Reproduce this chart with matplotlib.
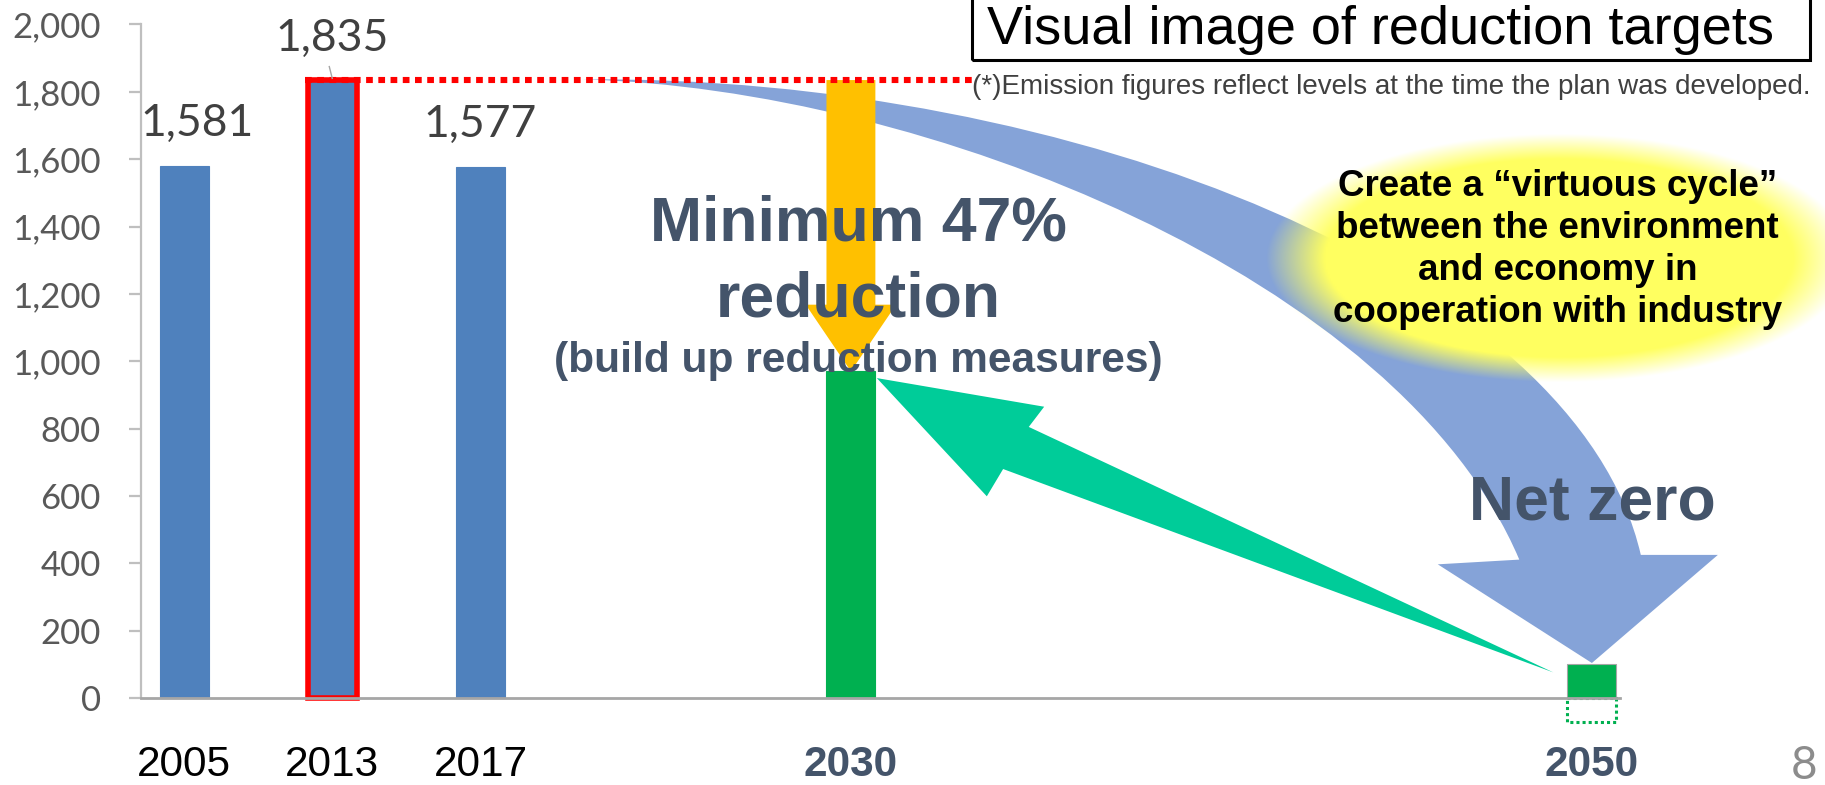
import numpy as np
import matplotlib
matplotlib.use("Agg")
import matplotlib.pyplot as plt
from matplotlib.patches import Polygon, Rectangle, PathPatch
from matplotlib.path import Path

# GHG emissions (Mt CO2eq) and targets
years = ["2005", "2013", "2017", "2030", "2050"]
emissions = [1581, 1835, 1577, 970, 100]
removals_2050 = -70          # offset shown below the axis for 2050
value_labels = ["1,581", "1,835", "1,577"]
yticks = [0, 200, 400, 600, 800, 1000, 1200, 1400, 1600, 1800, 2000]

# horizontal slot for each year on the category axis
slots = [0, 1, 2, 4.5, 9.5]
label_shift = [0.09, 0.0, 0.0]

BAR_BLUE = "#4F81BD"
BAR_GREEN = "#00B050"
ARROW_BLUE = "#85A3D8"
ARROW_YELLOW = "#FFC000"
ARROW_GREEN = "#00CC99"
SLATE = "#44546A"
ARIAL = ["Liberation Sans", "DejaVu Sans"]
CALIBRI = ["Lato", "DejaVu Sans"]

fig = plt.figure(figsize=(18.25, 7.85), dpi=100)
ax = fig.add_axes([0.0773, 0.1108, 0.8104, 0.858])
W = 0.33

# ── bars ───────────────────────────────────────────────────────────
colors = [BAR_BLUE, BAR_BLUE, BAR_BLUE, BAR_GREEN, BAR_GREEN]
for i, (s, v) in enumerate(zip(slots, emissions)):
    ec = "red" if i == 1 else ("#A6A6A6" if i == 4 else colors[i])
    lw = 4.0 if i == 1 else 0.8
    ax.bar(s, v, width=W, color=colors[i], edgecolor=ec, linewidth=lw,
           zorder=3, clip_on=False)
ax.bar(slots[4], removals_2050, width=W, color="none", edgecolor=BAR_GREEN,
       linestyle=(0, (1, 1)), linewidth=2.2, zorder=3, clip_on=False)

for s, v, lab, dx in zip(slots[:3], emissions[:3], value_labels, label_shift):
    ax.text(s + dx, v + 125, lab, ha="center", va="center", fontsize=32,
            color="#404040", family=CALIBRI, zorder=6)
# small leader from the 1,835 label to its bar
ax.plot([slots[1] - 0.02, slots[1]], [emissions[1] + 40, emissions[1] + 5],
        color="#A6A6A6", lw=1.0, zorder=6)

# base-year reference line from 2013
ax.plot([slots[1] - W / 2 - 0.02, 5.32], [emissions[1], emissions[1]],
        color="red", lw=4.4, linestyle=(0, (1.1, 0.9)),
        solid_capstyle="butt", dash_capstyle="butt", zorder=5,
        clip_on=False)

# ── curved blue arrow 2013 -> 2050 ─────────────────────────────────
tip = (slots[4], emissions[4] + 4)
tail = (2.69, emissions[1] + 2)
verts = [tail,
         (6.0, 1850), (9.4, 1250), (9.83, 425),   # upper edge
         (10.35, 425), tip, (8.46, 397), (9.01, 411),
         (8.2, 1250), (5.0, 1810), tail,          # lower edge
         tail]
codes = [Path.MOVETO,
         Path.CURVE4, Path.CURVE4, Path.CURVE4,
         Path.LINETO, Path.LINETO, Path.LINETO, Path.LINETO,
         Path.CURVE4, Path.CURVE4, Path.CURVE4,
         Path.CLOSEPOLY]
ax.add_patch(PathPatch(Path(verts, codes), facecolor=ARROW_BLUE,
                       edgecolor="none", zorder=2, clip_on=False))

# ── yellow arrow down to the 2030 target ───────────────────────────
x0 = slots[3]
hw, hh, head_base = W / 2, 0.305, 1168
yellow = [(x0 - hw, emissions[1]), (x0 + hw, emissions[1]),
          (x0 + hw, head_base), (x0 + hh, head_base),
          (x0, emissions[3]), (x0 - hh, head_base),
          (x0 - hw, head_base)]
ax.add_patch(Polygon(yellow, closed=True, facecolor=ARROW_YELLOW,
                     edgecolor="none", zorder=4))

# ── green arrow 2050 -> 2030 ──────────────────────────────────────
green = [(slots[3] + 0.175, emissions[3] - 20),
         (5.804, 865), (5.70, 805),
         (slots[4] - 0.26, 76),
         (5.527, 680), (5.417, 599)]
ax.add_patch(Polygon(green, closed=True, facecolor=ARROW_GREEN,
                     edgecolor="none", zorder=4))

# ── soft yellow highlight ─────────────────────────────────────────
cx, cy, rx, ry = 9.28, 1305, 1.80, 335
gx = np.linspace(cx - 2.3, cx + 2.3, 400)
gy = np.linspace(cy - 450, cy + 450, 300)
GX, GY = np.meshgrid(gx, gy)
r = np.sqrt(((GX - cx) / rx) ** 2 + ((GY - cy) / ry) ** 2)
alpha = np.clip((1.1 - r) / 0.22, 0, 1)
img = np.zeros(GX.shape + (4,))
img[..., 0] = 1.0
img[..., 1] = 1.0
img[..., 2] = 0.38
img[..., 3] = alpha
im = ax.imshow(img, extent=(gx[0], gx[-1], gy[0], gy[-1]), origin="lower",
               aspect="auto", zorder=4.5, interpolation="bilinear")
im.set_clip_on(False)

ax.text(9.27, 1333, "Create a \u201cvirtuous cycle\u201d\nbetween the environment\n"
        "and economy in\ncooperation with industry",
        ha="center", va="center", fontsize=26.5, fontweight="bold",
        family=ARIAL, linespacing=1.26, zorder=7, clip_on=False)

# ── annotation texts ──────────────────────────────────────────────
ax.text(4.55, 1409, "Minimum 47%", ha="center", va="center", fontsize=45,
        fontweight="bold", color=SLATE, family=ARIAL, zorder=7)
ax.text(4.55, 1181, "reduction", ha="center", va="center", fontsize=45,
        fontweight="bold", color=SLATE, family=ARIAL, zorder=7)
ax.text(4.55, 1002, "(build up reduction measures)", ha="center",
        va="center", fontsize=30.5, fontweight="bold", color=SLATE,
        family=ARIAL, zorder=7)
ax.text(slots[4], 580, "Net zero", ha="center", va="center", fontsize=45,
        fontweight="bold", color=SLATE, family=ARIAL, zorder=7,
        clip_on=False)

# ── axes styling ───────────────────────────────────────────────────
ax.set_xlim(-0.29, 9.69)
ax.set_ylim(0, 2000)
ax.set_yticks(yticks)
ax.set_yticklabels([f"{t:,}" for t in yticks], family=CALIBRI,
                   fontsize=25, color="#595959")
ax.tick_params(axis="y", length=9, width=1.6, color="#BFBFBF", pad=20)
ax.set_xticks(slots)
ax.set_xticklabels(years, family=ARIAL, fontsize=30.5)
ax.tick_params(axis="x", length=0, pad=34)
for lbl in ax.get_xticklabels()[3:]:
    lbl.set_fontweight("bold")
    lbl.set_color(SLATE)
for side in ("top", "right"):
    ax.spines[side].set_visible(False)
ax.spines["left"].set_color("#BFBFBF")
ax.spines["left"].set_linewidth(1.6)
ax.spines["bottom"].set_color("#A6A6A6")
ax.spines["bottom"].set_linewidth(2.0)
ax.spines["bottom"].set_zorder(3.5)

# ── title box, footnote, page number ──────────────────────────────
fig.patches.append(Rectangle((0.5326, 0.923), 0.4592, 0.09, fill=False,
                             edgecolor="black", linewidth=2.2,
                             transform=fig.transFigure, figure=fig))
fig.text(0.7565, 0.962, "Visual image of reduction targets", ha="center",
         va="center", fontsize=39, family=ARIAL)
fig.text(0.5326, 0.889,
         "(*)Emission figures reflect levels at the time the plan was developed.",
         ha="left", va="center", fontsize=20, color="#404040", family=ARIAL)
fig.text(0.9885, 0.024, "8", ha="center", va="center", fontsize=33,
         color="#8C8C8C", family=CALIBRI)

fig.savefig("out.png", dpi=100)
